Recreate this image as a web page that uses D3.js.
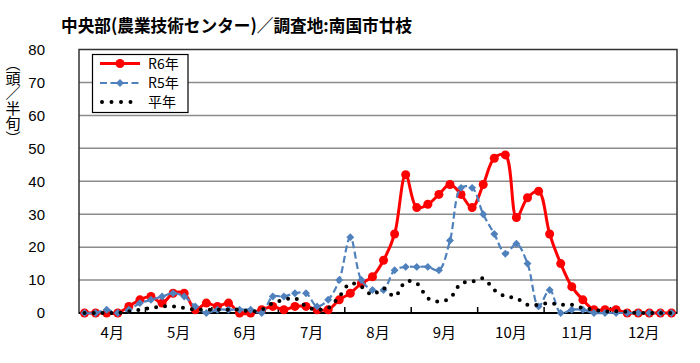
<!DOCTYPE html>
<html><head><meta charset="utf-8">
<script src="https://cdn.jsdelivr.net/npm/d3@7"></script>
<style>body{margin:0;background:#fff}svg{display:block}</style>
</head><body>
<svg id="c" width="700" height="363"></svg>
<script>
const months = ["4月","5月","6月","7月","8月","9月","10月","11月","12月"];
const halves = ["1","2","3","4","5","6"];
const categories = d3.cross(months, halves).map(d => d[0] + d[1]);
const yTicks = [0,10,20,30,40,50,60,70,80];
const seriesNames = ["R6年","R5年","平年"];
const r6 = [0,0,0,0,2,4, 5,3,6,6,1,3, 2,3,0,0,1,2, 1,2,2,1,1,4, 6,9,11,16,24,42, 32,33,36,39,36,32, 39,47,48,29,35,37, 24,15,8,4,1,1, 1,0,0,0,0,0];
const r5 = [0,0,1,0,1,3, 4,5,6,5,2,0, 1,1,1,1,0,5, 5,6,6,2,4,10, 23,10,7,7,13,14, 14,14,13,22,38,38, 30,24,18,21,15,2, 7,0,1,1,0,0, 0,0,0,0,0,0];
const avg = [0,0,0,0,0.5,1, 1.5,2,2,1.5,1,1, 1,1,1,0.5,1,3, 4,4.5,2,1,1.5,5, 9,8,5.5,7.5,5,9.5, 9,4.5,3.5,4.5,9,9.5, 10.5,7,5,4.5,2.5,2.5, 3,2.5,2.5,1.5,1,0.5, 0.5,0.3,0,0,0,0];

const svg = d3.select("#c");
const L = 79, R = 677, T = 49.5, B = 313;
const x = d3.scaleBand().domain(categories).range([L, R]).padding(0);
const xm = d3.scaleBand().domain(months).range([L, R]).padding(0);
const y = d3.scaleLinear().domain([0, 80]).range([B, T]);
const cx = k => x(k) + x.bandwidth() / 2;
const JP = "'Noto Sans CJK JP','Liberation Sans',sans-serif";
const LAT = "'Liberation Sans',Arial,sans-serif";

// title
svg.append("text").attr("x", 61).attr("y", 32)
  .attr("font-family", JP).attr("font-size", 17.5).attr("font-weight", "bold")
  .attr("textLength", 351).attr("lengthAdjust", "spacingAndGlyphs")
  .text("中央部(農業技術センター)／調査地:南国市廿枝");

// gridlines
svg.append("g").selectAll("line").data(yTicks.filter(t => t > 0 && t < 80)).join("line")
  .attr("x1", L).attr("x2", R).attr("y1", d => y(d)).attr("y2", d => y(d))
  .attr("stroke", "#8c8c8c").attr("stroke-width", 1.5);

// y axis labels
const yAxis = d3.axisLeft(y).tickValues(yTicks).tickSize(0).tickPadding(34);
const gy = svg.append("g").attr("transform", `translate(${L},0)`).call(yAxis);
gy.select(".domain").remove();
gy.selectAll("text").attr("font-family", LAT).attr("font-size", 15).attr("fill", "#000");

// y title vertical
svg.append("text").attr("x", 13).attr("y", 56)
  .style("writing-mode", "vertical-rl")
  .attr("font-family", JP).attr("font-size", 15)
  .text("（頭／半旬）");

// plot border
svg.append("rect").attr("x", L).attr("y", T).attr("width", R - L).attr("height", B - T)
  .attr("fill", "none").attr("stroke", "#333").attr("stroke-width", 1.5);

// x axis
const xAxis = d3.axisBottom(xm).tickSize(0).tickPadding(14);
const gx = svg.append("g").attr("transform", `translate(0,${B})`).call(xAxis);
gx.select(".domain").remove();
gx.selectAll("text").attr("font-family", JP).attr("font-size", 15).attr("fill", "#000");
svg.append("line").attr("x1", L).attr("x2", R).attr("y1", B).attr("y2", B)
  .attr("stroke", "#000").attr("stroke-width", 2.2);
svg.append("g").selectAll("line").data(months.slice(1)).join("line")
  .attr("x1", d => xm(d)).attr("x2", d => xm(d)).attr("y1", B).attr("y2", B - 6)
  .attr("stroke", "#000").attr("stroke-width", 1.5);

const curve = d3.curveCatmullRom.alpha(0.5);
const line = d3.line().x((d, i) => cx(categories[i])).y(d => y(d)).curve(curve);

// R6
svg.append("path").attr("d", line(r6)).attr("fill", "none")
  .attr("stroke", "#ff0000").attr("stroke-width", 3);
svg.append("g").selectAll("circle").data(r6).join("circle")
  .attr("cx", (d, i) => cx(categories[i])).attr("cy", d => y(d)).attr("r", 4.5)
  .attr("fill", "#ff0000");

// R5
const blue = "#4f81bd";
svg.append("path").attr("d", line(r5)).attr("fill", "none")
  .attr("stroke", blue).attr("stroke-width", 2.2).attr("stroke-dasharray", "7 3.5");
const diamond = d3.symbol().type(d3.symbolDiamond2).size(40);
svg.append("g").selectAll("path").data(r5).join("path")
  .attr("d", diamond)
  .attr("transform", (d, i) => `translate(${cx(categories[i])},${y(d)})`)
  .attr("fill", blue);

// average
svg.append("path").attr("d", line(avg)).attr("fill", "none")
  .attr("stroke", "#000").attr("stroke-width", 4).attr("stroke-linecap", "round")
  .attr("stroke-dasharray", "0 9");

// legend
const lg = svg.append("g");
lg.append("rect").attr("x", 92.5).attr("y", 54.5).attr("width", 95.5).attr("height", 58)
  .attr("fill", "#fff").attr("stroke", "#000").attr("stroke-width", 1.2);
const ly = [63.5, 83, 102];
const lx1 = 100, lx2 = 140, lmid = 120;
lg.append("line").attr("x1", lx1).attr("x2", lx2).attr("y1", ly[0]).attr("y2", ly[0])
  .attr("stroke", "#ff0000").attr("stroke-width", 3);
lg.append("circle").attr("cx", lmid).attr("cy", ly[0]).attr("r", 4.5).attr("fill", "#ff0000");
lg.append("line").attr("x1", lx1).attr("x2", lx2).attr("y1", ly[1]).attr("y2", ly[1])
  .attr("stroke", blue).attr("stroke-width", 2.2).attr("stroke-dasharray", "7 3.5");
lg.append("path").attr("d", diamond()).attr("transform", `translate(${lmid},${ly[1]})`).attr("fill", blue);
lg.append("line").attr("x1", lx1 + 2).attr("x2", lx2).attr("y1", ly[2]).attr("y2", ly[2])
  .attr("stroke", "#000").attr("stroke-width", 4).attr("stroke-linecap", "round")
  .attr("stroke-dasharray", "0 9.5");
lg.selectAll("text.lt").data(seriesNames).join("text").attr("class", "lt")
  .attr("x", 148).attr("y", (d, i) => ly[i] + 5)
  .attr("font-family", JP).attr("font-size", 14).text(d => d);
</script>
</body></html>
